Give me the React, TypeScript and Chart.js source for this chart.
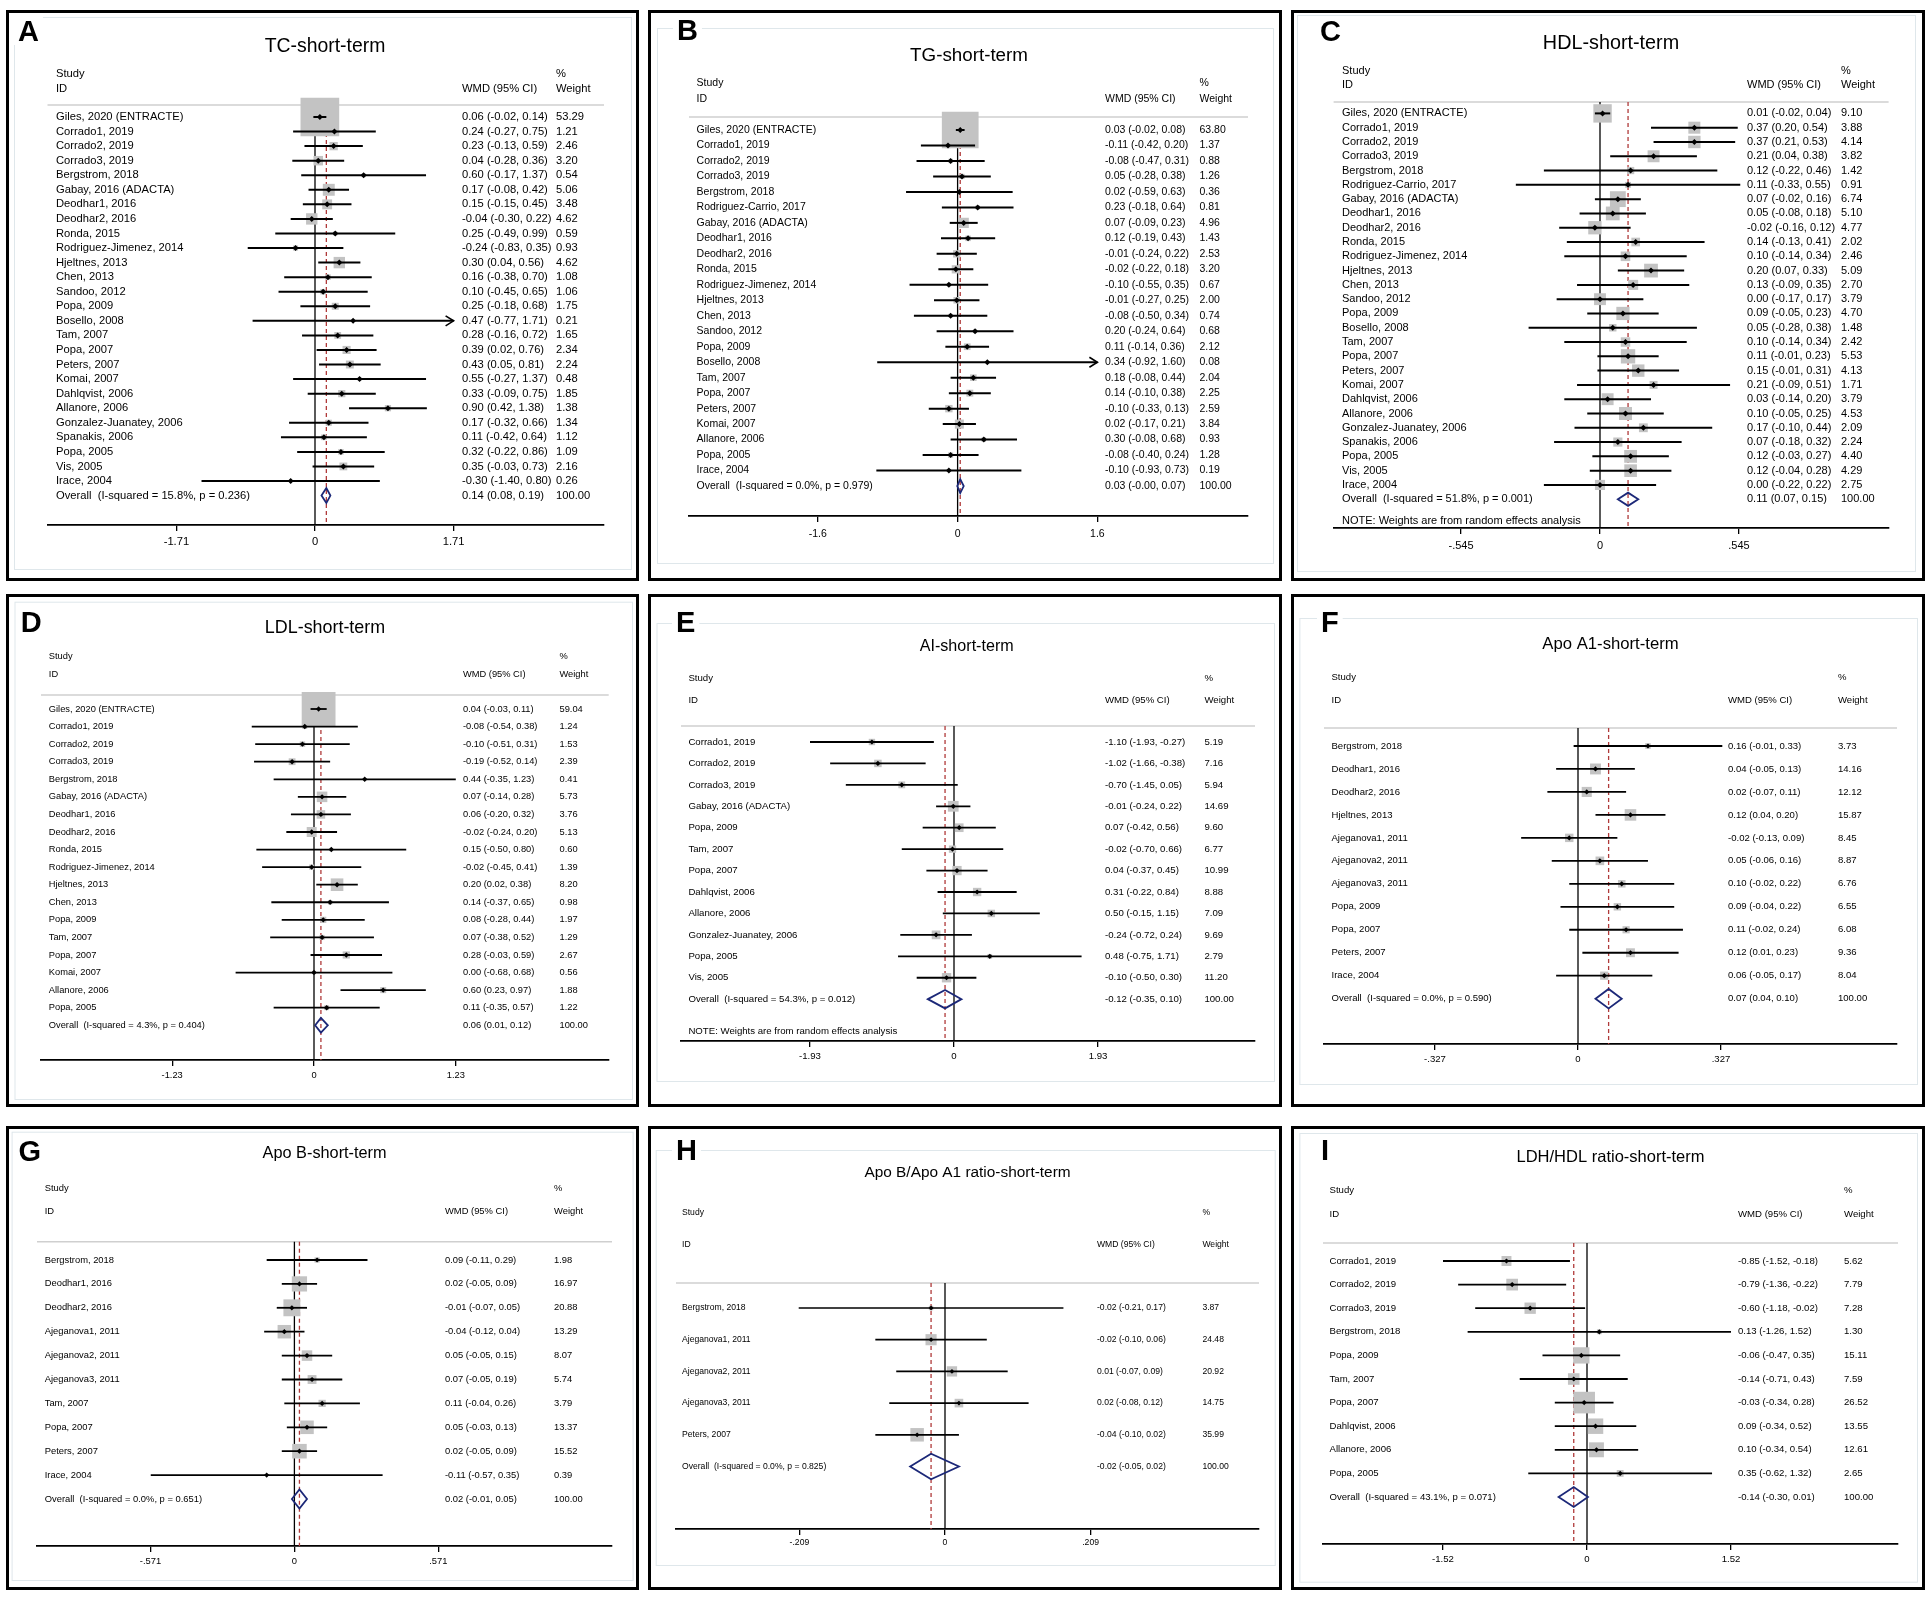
import React, { useEffect, useRef } from "react";
import { Chart, registerables } from "chart.js";
Chart.register(...registerables);

const FONT = "'Liberation Sans', Arial, Helvetica, sans-serif";

// ---------------- A: TC ----------------
const TC_STUDIES = ["Giles, 2020 (ENTRACTE)", "Corrado1, 2019", "Corrado2, 2019", "Corrado3, 2019", "Bergstrom, 2018", "Gabay, 2016 (ADACTA)", "Deodhar1, 2016", "Deodhar2, 2016", "Ronda, 2015", "Rodriguez-Jimenez, 2014", "Hjeltnes, 2013", "Chen, 2013", "Sandoo, 2012", "Popa, 2009", "Bosello, 2008", "Tam, 2007", "Popa, 2007", "Peters, 2007", "Komai, 2007", "Dahlqvist, 2006", "Allanore, 2006", "Gonzalez-Juanatey, 2006", "Spanakis, 2006", "Popa, 2005", "Vis, 2005", "Irace, 2004"];
const TC_EST = [0.06, 0.24, 0.23, 0.04, 0.60, 0.17, 0.15, -0.04, 0.25, -0.24, 0.30, 0.16, 0.10, 0.25, 0.47, 0.28, 0.39, 0.43, 0.55, 0.33, 0.90, 0.17, 0.11, 0.32, 0.35, -0.30];
const TC_LO = [-0.02, -0.27, -0.13, -0.28, -0.17, -0.08, -0.15, -0.30, -0.49, -0.83, 0.04, -0.38, -0.45, -0.18, -0.77, -0.16, 0.02, 0.05, -0.27, -0.09, 0.42, -0.32, -0.42, -0.22, -0.03, -1.40];
const TC_HI = [0.14, 0.75, 0.59, 0.36, 1.37, 0.42, 0.45, 0.22, 0.99, 0.35, 0.56, 0.70, 0.65, 0.68, 1.71, 0.72, 0.76, 0.81, 1.37, 0.75, 1.38, 0.66, 0.64, 0.86, 0.73, 0.80];
const TC_WEIGHT = [53.29, 1.21, 2.46, 3.20, 0.54, 5.06, 3.48, 4.62, 0.59, 0.93, 4.62, 1.08, 1.06, 1.75, 0.21, 1.65, 2.34, 2.24, 0.48, 1.85, 1.38, 1.34, 1.12, 1.09, 2.16, 0.26];
const TC_OVERALL = [0.14, 0.08, 0.19];
const TC_HET = "Overall  (I-squared = 15.8%, p = 0.236)";
const TC_TICK = 1.71;
const TC_TICK_LABELS = ["-1.71", "0", "1.71"];

// ---------------- B: TG ----------------
const TG_STUDIES = ["Giles, 2020 (ENTRACTE)", "Corrado1, 2019", "Corrado2, 2019", "Corrado3, 2019", "Bergstrom, 2018", "Rodriguez-Carrio, 2017", "Gabay, 2016 (ADACTA)", "Deodhar1, 2016", "Deodhar2, 2016", "Ronda, 2015", "Rodriguez-Jimenez, 2014", "Hjeltnes, 2013", "Chen, 2013", "Sandoo, 2012", "Popa, 2009", "Bosello, 2008", "Tam, 2007", "Popa, 2007", "Peters, 2007", "Komai, 2007", "Allanore, 2006", "Popa, 2005", "Irace, 2004"];
const TG_EST = [0.03, -0.11, -0.08, 0.05, 0.02, 0.23, 0.07, 0.12, -0.01, -0.02, -0.10, -0.01, -0.08, 0.20, 0.11, 0.34, 0.18, 0.14, -0.10, 0.02, 0.30, -0.08, -0.10];
const TG_LO = [-0.02, -0.42, -0.47, -0.28, -0.59, -0.18, -0.09, -0.19, -0.24, -0.22, -0.55, -0.27, -0.50, -0.24, -0.14, -0.92, -0.08, -0.10, -0.33, -0.17, -0.08, -0.40, -0.93];
const TG_HI = [0.08, 0.20, 0.31, 0.38, 0.63, 0.64, 0.23, 0.43, 0.22, 0.18, 0.35, 0.25, 0.34, 0.64, 0.36, 1.60, 0.44, 0.38, 0.13, 0.21, 0.68, 0.24, 0.73];
const TG_WEIGHT = [63.80, 1.37, 0.88, 1.26, 0.36, 0.81, 4.96, 1.43, 2.53, 3.20, 0.67, 2.00, 0.74, 0.68, 2.12, 0.08, 2.04, 2.25, 2.59, 3.84, 0.93, 1.28, 0.19];
const TG_OVERALL = [0.03, -0.004, 0.07];
const TG_HET = "Overall  (I-squared = 0.0%, p = 0.979)";
const TG_TICK = 1.6;
const TG_TICK_LABELS = ["-1.6", "0", "1.6"];

// ---------------- C: HDL ----------------
const HDL_STUDIES = ["Giles, 2020 (ENTRACTE)", "Corrado1, 2019", "Corrado2, 2019", "Corrado3, 2019", "Bergstrom, 2018", "Rodriguez-Carrio, 2017", "Gabay, 2016 (ADACTA)", "Deodhar1, 2016", "Deodhar2, 2016", "Ronda, 2015", "Rodriguez-Jimenez, 2014", "Hjeltnes, 2013", "Chen, 2013", "Sandoo, 2012", "Popa, 2009", "Bosello, 2008", "Tam, 2007", "Popa, 2007", "Peters, 2007", "Komai, 2007", "Dahlqvist, 2006", "Allanore, 2006", "Gonzalez-Juanatey, 2006", "Spanakis, 2006", "Popa, 2005", "Vis, 2005", "Irace, 2004"];
const HDL_EST = [0.01, 0.37, 0.37, 0.21, 0.12, 0.11, 0.07, 0.05, -0.02, 0.14, 0.10, 0.20, 0.13, 0.00, 0.09, 0.05, 0.10, 0.11, 0.15, 0.21, 0.03, 0.10, 0.17, 0.07, 0.12, 0.12, 0.00];
const HDL_LO = [-0.02, 0.20, 0.21, 0.04, -0.22, -0.33, -0.02, -0.08, -0.16, -0.13, -0.14, 0.07, -0.09, -0.17, -0.05, -0.28, -0.14, -0.01, -0.01, -0.09, -0.14, -0.05, -0.10, -0.18, -0.03, -0.04, -0.22];
const HDL_HI = [0.04, 0.54, 0.53, 0.38, 0.46, 0.55, 0.16, 0.18, 0.12, 0.41, 0.34, 0.33, 0.35, 0.17, 0.23, 0.38, 0.34, 0.23, 0.31, 0.51, 0.20, 0.25, 0.44, 0.32, 0.27, 0.28, 0.22];
const HDL_WEIGHT = [9.10, 3.88, 4.14, 3.82, 1.42, 0.91, 6.74, 5.10, 4.77, 2.02, 2.46, 5.09, 2.70, 3.79, 4.70, 1.48, 2.42, 5.53, 4.13, 1.71, 3.79, 4.53, 2.09, 2.24, 4.40, 4.29, 2.75];
const HDL_OVERALL = [0.11, 0.07, 0.15];
const HDL_HET = "Overall  (I-squared = 51.8%, p = 0.001)";
const HDL_TICK = 0.545;
const HDL_TICK_LABELS = ["-.545", "0", ".545"];

// ---------------- D: LDL ----------------
const LDL_STUDIES = ["Giles, 2020 (ENTRACTE)", "Corrado1, 2019", "Corrado2, 2019", "Corrado3, 2019", "Bergstrom, 2018", "Gabay, 2016 (ADACTA)", "Deodhar1, 2016", "Deodhar2, 2016", "Ronda, 2015", "Rodriguez-Jimenez, 2014", "Hjeltnes, 2013", "Chen, 2013", "Popa, 2009", "Tam, 2007", "Popa, 2007", "Komai, 2007", "Allanore, 2006", "Popa, 2005"];
const LDL_EST = [0.04, -0.08, -0.10, -0.19, 0.44, 0.07, 0.06, -0.02, 0.15, -0.02, 0.20, 0.14, 0.08, 0.07, 0.28, 0.00, 0.60, 0.11];
const LDL_LO = [-0.03, -0.54, -0.51, -0.52, -0.35, -0.14, -0.20, -0.24, -0.50, -0.45, 0.02, -0.37, -0.28, -0.38, -0.03, -0.68, 0.23, -0.35];
const LDL_HI = [0.11, 0.38, 0.31, 0.14, 1.23, 0.28, 0.32, 0.20, 0.80, 0.41, 0.38, 0.65, 0.44, 0.52, 0.59, 0.68, 0.97, 0.57];
const LDL_WEIGHT = [59.04, 1.24, 1.53, 2.39, 0.41, 5.73, 3.76, 5.13, 0.60, 1.39, 8.20, 0.98, 1.97, 1.29, 2.67, 0.56, 1.88, 1.22];
const LDL_OVERALL = [0.06, 0.01, 0.12];
const LDL_HET = "Overall  (I-squared = 4.3%, p = 0.404)";
const LDL_TICK = 1.23;
const LDL_TICK_LABELS = ["-1.23", "0", "1.23"];

// ---------------- E: AI ----------------
const AI_STUDIES = ["Corrado1, 2019", "Corrado2, 2019", "Corrado3, 2019", "Gabay, 2016 (ADACTA)", "Popa, 2009", "Tam, 2007", "Popa, 2007", "Dahlqvist, 2006", "Allanore, 2006", "Gonzalez-Juanatey, 2006", "Popa, 2005", "Vis, 2005"];
const AI_EST = [-1.10, -1.02, -0.70, -0.01, 0.07, -0.02, 0.04, 0.31, 0.50, -0.24, 0.48, -0.10];
const AI_LO = [-1.93, -1.66, -1.45, -0.24, -0.42, -0.70, -0.37, -0.22, -0.15, -0.72, -0.75, -0.50];
const AI_HI = [-0.27, -0.38, 0.05, 0.22, 0.56, 0.66, 0.45, 0.84, 1.15, 0.24, 1.71, 0.30];
const AI_WEIGHT = [5.19, 7.16, 5.94, 14.69, 9.60, 6.77, 10.99, 8.88, 7.09, 9.69, 2.79, 11.20];
const AI_OVERALL = [-0.12, -0.35, 0.10];
const AI_HET = "Overall  (I-squared = 54.3%, p = 0.012)";
const AI_TICK = 1.93;
const AI_TICK_LABELS = ["-1.93", "0", "1.93"];

// ---------------- F: Apo A1 ----------------
const APOA1_STUDIES = ["Bergstrom, 2018", "Deodhar1, 2016", "Deodhar2, 2016", "Hjeltnes, 2013", "Ajeganova1, 2011", "Ajeganova2, 2011", "Ajeganova3, 2011", "Popa, 2009", "Popa, 2007", "Peters, 2007", "Irace, 2004"];
const APOA1_EST = [0.16, 0.04, 0.02, 0.12, -0.02, 0.05, 0.10, 0.09, 0.11, 0.12, 0.06];
const APOA1_LO = [-0.01, -0.05, -0.07, 0.04, -0.13, -0.06, -0.02, -0.04, -0.02, 0.01, -0.05];
const APOA1_HI = [0.33, 0.13, 0.11, 0.20, 0.09, 0.16, 0.22, 0.22, 0.24, 0.23, 0.17];
const APOA1_WEIGHT = [3.73, 14.16, 12.12, 15.87, 8.45, 8.87, 6.76, 6.55, 6.08, 9.36, 8.04];
const APOA1_OVERALL = [0.07, 0.04, 0.10];
const APOA1_HET = "Overall  (I-squared = 0.0%, p = 0.590)";
const APOA1_TICK = 0.327;
const APOA1_TICK_LABELS = ["-.327", "0", ".327"];

// ---------------- G: Apo B ----------------
const APOB_STUDIES = ["Bergstrom, 2018", "Deodhar1, 2016", "Deodhar2, 2016", "Ajeganova1, 2011", "Ajeganova2, 2011", "Ajeganova3, 2011", "Tam, 2007", "Popa, 2007", "Peters, 2007", "Irace, 2004"];
const APOB_EST = [0.09, 0.02, -0.01, -0.04, 0.05, 0.07, 0.11, 0.05, 0.02, -0.11];
const APOB_LO = [-0.11, -0.05, -0.07, -0.12, -0.05, -0.05, -0.04, -0.03, -0.05, -0.57];
const APOB_HI = [0.29, 0.09, 0.05, 0.04, 0.15, 0.19, 0.26, 0.13, 0.09, 0.35];
const APOB_WEIGHT = [1.98, 16.97, 20.88, 13.29, 8.07, 5.74, 3.79, 13.37, 15.52, 0.39];
const APOB_OVERALL = [0.02, -0.01, 0.05];
const APOB_HET = "Overall  (I-squared = 0.0%, p = 0.651)";
const APOB_TICK = 0.571;
const APOB_TICK_LABELS = ["-.571", "0", ".571"];

// ---------------- H: Apo B / Apo A1 ratio ----------------
const RATIO_STUDIES = ["Bergstrom, 2018", "Ajeganova1, 2011", "Ajeganova2, 2011", "Ajeganova3, 2011", "Peters, 2007"];
const RATIO_EST = [-0.02, -0.02, 0.01, 0.02, -0.04];
const RATIO_LO = [-0.21, -0.10, -0.07, -0.08, -0.10];
const RATIO_HI = [0.17, 0.06, 0.09, 0.12, 0.02];
const RATIO_WEIGHT = [3.87, 24.48, 20.92, 14.75, 35.99];
const RATIO_OVERALL = [-0.02, -0.05, 0.02];
const RATIO_HET = "Overall  (I-squared = 0.0%, p = 0.825)";
const RATIO_TICK = 0.209;
const RATIO_TICK_LABELS = ["-.209", "0", ".209"];

// ---------------- I: LDH/HDL ratio ----------------
const LH_STUDIES = ["Corrado1, 2019", "Corrado2, 2019", "Corrado3, 2019", "Bergstrom, 2018", "Popa, 2009", "Tam, 2007", "Popa, 2007", "Dahlqvist, 2006", "Allanore, 2006", "Popa, 2005"];
const LH_EST = [-0.85, -0.79, -0.60, 0.13, -0.06, -0.14, -0.03, 0.09, 0.10, 0.35];
const LH_LO = [-1.52, -1.36, -1.18, -1.26, -0.47, -0.71, -0.34, -0.34, -0.34, -0.62];
const LH_HI = [-0.18, -0.22, -0.02, 1.52, 0.35, 0.43, 0.28, 0.52, 0.54, 1.32];
const LH_WEIGHT = [5.62, 7.79, 7.28, 1.30, 15.11, 7.59, 26.52, 13.55, 12.61, 2.65];
const LH_OVERALL = [-0.14, -0.30, 0.01];
const LH_HET = "Overall  (I-squared = 43.1%, p = 0.071)";
const LH_TICK = 1.52;
const LH_TICK_LABELS = ["-1.52", "0", "1.52"];

const NOTE = "NOTE: Weights are from random effects analysis";

type Layout = {
  letterX: number; letterY: number; titleX: number; titleY: number; titleSize: number; textSize: number;
  studyY: number; idY: number; hlineY: number; firstRowY: number; rowStep: number; axisY: number; tickLabelY: number;
  labelX: number; wmdX: number; weightX: number; zeroX: number; aPx: number; axisL: number; axisR: number;
  inner: number[]; boxK: number; pointR: number; ciW: number; diamondH: number; noteY?: number; arrows?: number[];
};

type PanelDef = {
  letter: string; title: string; studies: string[]; est: number[]; lo: number[]; hi: number[]; weight: number[];
  overall: number[]; het: string; tick: number; tickLabels: string[]; note?: string; box: number[]; L: Layout;
};

const PANELS: PanelDef[] = [
  {
    letter: "A", title: "TC-short-term", studies: TC_STUDIES, est: TC_EST, lo: TC_LO, hi: TC_HI, weight: TC_WEIGHT,
    overall: TC_OVERALL, het: TC_HET, tick: TC_TICK, tickLabels: TC_TICK_LABELS, box: [6, 10, 633, 571],
    L: { letterX: 12, letterY: 31, titleX: 319, titleY: 37, titleSize: 19.4, textSize: 11.2, studyY: 64, idY: 79, hlineY: 95, firstRowY: 107, rowStep: 14.56, axisY: 515, tickLabelY: 532, labelX: 50, wmdX: 456, weightX: 550, zeroX: 309, aPx: 138.6, axisL: 41.5, axisR: 598, inner: [8, 7, 625, 559], boxK: 5.3, pointR: 3, ciW: 2, diamondH: 7.5, arrows: [14] },
  },
  {
    letter: "B", title: "TG-short-term", studies: TG_STUDIES, est: TG_EST, lo: TG_LO, hi: TG_HI, weight: TG_WEIGHT,
    overall: TG_OVERALL, het: TG_HET, tick: TG_TICK, tickLabels: TG_TICK_LABELS, box: [648, 10, 634, 571],
    L: { letterX: 29, letterY: 30, titleX: 321, titleY: 46, titleSize: 18.8, textSize: 10.5, studyY: 73, idY: 89, hlineY: 107, firstRowY: 120, rowStep: 15.48, axisY: 506, tickLabelY: 524, labelX: 48.6, wmdX: 457, weightX: 551.5, zeroX: 309.6, aPx: 139.8, axisL: 41, axisR: 600, inner: [9, 18, 625, 553], boxK: 4.6, pointR: 3, ciW: 2, diamondH: 7, arrows: [15] },
  },
  {
    letter: "C", title: "HDL-short-term", studies: HDL_STUDIES, est: HDL_EST, lo: HDL_LO, hi: HDL_HI, weight: HDL_WEIGHT,
    overall: HDL_OVERALL, het: HDL_HET, tick: HDL_TICK, tickLabels: HDL_TICK_LABELS, note: NOTE, box: [1291, 10, 634, 571],
    L: { letterX: 29, letterY: 31, titleX: 320, titleY: 33.5, titleSize: 19.8, textSize: 11, studyY: 61, idY: 75, hlineY: 92, firstRowY: 103.4, rowStep: 14.29, noteY: 511, axisY: 518, tickLabelY: 535.5, labelX: 51, wmdX: 456, weightX: 550, zeroX: 309, aPx: 139, axisL: 42.6, axisR: 597.6, inner: [6, 5, 624, 561], boxK: 6.1, pointR: 3, ciW: 2, diamondH: 6.6 },
  },
  {
    letter: "D", title: "LDL-short-term", studies: LDL_STUDIES, est: LDL_EST, lo: LDL_LO, hi: LDL_HI, weight: LDL_WEIGHT,
    overall: LDL_OVERALL, het: LDL_HET, tick: LDL_TICK, tickLabels: LDL_TICK_LABELS, box: [6, 594, 633, 513],
    L: { letterX: 14.7, letterY: 38, titleX: 319, titleY: 34, titleSize: 17.9, textSize: 9.3, studyY: 62.7, idY: 80, hlineY: 101, firstRowY: 115, rowStep: 17.57, axisY: 466, tickLabelY: 481.7, labelX: 42.8, wmdX: 457, weightX: 553.5, zeroX: 308, aPx: 141.8, axisL: 35, axisR: 602.7, inner: [8.5, 7.7, 626, 505], boxK: 4.4, pointR: 2.7, ciW: 1.8, diamondH: 7.3 },
  },
  {
    letter: "E", title: "AI-short-term", studies: AI_STUDIES, est: AI_EST, lo: AI_LO, hi: AI_HI, weight: AI_WEIGHT,
    overall: AI_OVERALL, het: AI_HET, tick: AI_TICK, tickLabels: AI_TICK_LABELS, note: NOTE, box: [648, 594, 634, 513],
    L: { letterX: 28, letterY: 38, titleX: 318.7, titleY: 52.7, titleSize: 16.1, textSize: 9.65, studyY: 84, idY: 106, hlineY: 132, firstRowY: 148, rowStep: 21.43, noteY: 437, axisY: 447, tickLabelY: 462, labelX: 40.4, wmdX: 457, weightX: 556.4, zeroX: 306, aPx: 144, axisL: 33, axisR: 607, inner: [8.5, 29, 626, 487], boxK: 2.8, pointR: 2.6, ciW: 1.8, diamondH: 9.2 },
  },
  {
    letter: "F", title: "Apo A1-short-term", studies: APOA1_STUDIES, est: APOA1_EST, lo: APOA1_LO, hi: APOA1_HI, weight: APOA1_WEIGHT,
    overall: APOA1_OVERALL, het: APOA1_HET, tick: APOA1_TICK, tickLabels: APOA1_TICK_LABELS, box: [1291, 594, 634, 513],
    L: { letterX: 30, letterY: 37.7, titleX: 319.5, titleY: 50, titleSize: 16.7, textSize: 9.55, studyY: 83.7, idY: 106, hlineY: 134, firstRowY: 152, rowStep: 22.97, axisY: 450, tickLabelY: 465, labelX: 40.5, wmdX: 437, weightX: 547, zeroX: 287, aPx: 143, axisL: 33, axisR: 606, inner: [8.4, 24, 626, 490], boxK: 2.9, pointR: 2.6, ciW: 1.8, diamondH: 9.7 },
  },
  {
    letter: "G", title: "Apo B-short-term", studies: APOB_STUDIES, est: APOB_EST, lo: APOB_LO, hi: APOB_HI, weight: APOB_WEIGHT,
    overall: APOB_OVERALL, het: APOB_HET, tick: APOB_TICK, tickLabels: APOB_TICK_LABELS, box: [6, 1126, 633, 464],
    L: { letterX: 12.6, letterY: 35, titleX: 318.6, titleY: 28, titleSize: 16.3, textSize: 9.4, studyY: 62, idY: 85.7, hlineY: 115.7, firstRowY: 134, rowStep: 23.9, axisY: 420, tickLabelY: 435.7, labelX: 38.7, wmdX: 439, weightX: 548, zeroX: 288.4, aPx: 143.9, axisL: 31, axisR: 606, inner: [5.6, 5.7, 626.6, 454], boxK: 3.7, pointR: 2.6, ciW: 1.8, diamondH: 9.5 },
  },
  {
    letter: "H", title: "Apo B/Apo A1 ratio-short-term", studies: RATIO_STUDIES, est: RATIO_EST, lo: RATIO_LO, hi: RATIO_HI, weight: RATIO_WEIGHT,
    overall: RATIO_OVERALL, het: RATIO_HET, tick: RATIO_TICK, tickLabels: RATIO_TICK_LABELS, box: [648, 1126, 634, 464],
    L: { letterX: 28, letterY: 34, titleX: 319.5, titleY: 46.7, titleSize: 15.4, textSize: 8.6, studyY: 87, idY: 119, hlineY: 157, firstRowY: 182, rowStep: 31.7, axisY: 403, tickLabelY: 416.7, labelX: 34, wmdX: 449, weightX: 554.4, zeroX: 297, aPx: 145.6, axisL: 28, axisR: 611, inner: [7.7, 24, 626.7, 439], boxK: 2.25, pointR: 2.4, ciW: 1.7, diamondH: 12.8 },
  },
  {
    letter: "I", title: "LDH/HDL ratio-short-term", studies: LH_STUDIES, est: LH_EST, lo: LH_LO, hi: LH_HI, weight: LH_WEIGHT,
    overall: LH_OVERALL, het: LH_HET, tick: LH_TICK, tickLabels: LH_TICK_LABELS, box: [1291, 1126, 634, 464],
    L: { letterX: 30, letterY: 34, titleX: 319.5, titleY: 31, titleSize: 16.5, textSize: 9.6, studyY: 64, idY: 88, hlineY: 117, firstRowY: 135, rowStep: 23.6, axisY: 418, tickLabelY: 433, labelX: 38.5, wmdX: 447, weightX: 553, zeroX: 296, aPx: 144, axisL: 32, axisR: 607, inner: [8.4, 7, 626, 455.7], boxK: 4.2, pointR: 2.6, ciW: 1.8, diamondH: 10 },
  },
];

const fmt = (v: number) => v.toFixed(2);
const ciText = (e: number, lo: number, hi: number) => `${fmt(e)} (${fmt(lo)}, ${fmt(hi)})`;

function ForestPanel({ p }: { p: PanelDef }) {
  const ref = useRef<HTMLCanvasElement | null>(null);
  const [bx, by, W, H] = p.box;

  useEffect(() => {
    const canvas = ref.current;
    if (!canvas) return;
    const L = p.L;
    const n = p.studies.length;
    const a = p.tick;
    const xMin = ((L.axisL - L.zeroX) / L.aPx) * a;
    const xMax = ((L.axisR - L.zeroX) / L.aPx) * a;
    const yMin = (L.hlineY - L.firstRowY) / L.rowStep;
    const yMax = (L.axisY - L.firstRowY) / L.rowStep;
    const tickLen = 6;
    const arrows = L.arrows || [];

    const plugin = {
      id: "forest" + p.letter,
      beforeDraw(chart: any) {
        const ctx = chart.ctx as CanvasRenderingContext2D;
        ctx.save();
        // inner (plot region) frame
        const [il, it, ir, ib] = L.inner;
        ctx.strokeStyle = "#dfe7eb";
        ctx.lineWidth = 1;
        ctx.strokeRect(il + 0.5, it + 0.5, ir - il, ib - it);
        // outer border
        ctx.strokeStyle = "#000";
        ctx.lineWidth = 3;
        ctx.strokeRect(1.5, 1.5, W - 3, H - 3);
        // panel letter
        ctx.font = `bold 29px ${FONT}`;
        const lw = ctx.measureText(p.letter).width;
        ctx.fillStyle = "#fff";
        ctx.fillRect(L.letterX - 4, L.letterY - 25, lw + 8, 29);
        ctx.fillStyle = "#000";
        ctx.textAlign = "left";
        ctx.textBaseline = "alphabetic";
        ctx.fillText(p.letter, L.letterX, L.letterY);
        // title
        ctx.font = `${L.titleSize}px ${FONT}`;
        ctx.textAlign = "center";
        ctx.textBaseline = "middle";
        ctx.fillText(p.title, L.titleX, L.titleY);
        // headers
        ctx.font = `${L.textSize}px ${FONT}`;
        ctx.textAlign = "left";
        ctx.fillText("Study", L.labelX, L.studyY);
        ctx.fillText("ID", L.labelX, L.idY);
        ctx.fillText("WMD (95% CI)", L.wmdX, L.idY);
        ctx.fillText("%", L.weightX, L.studyY);
        ctx.fillText("Weight", L.weightX, L.idY);
        // header rule
        ctx.strokeStyle = "#cfcfcf";
        ctx.lineWidth = 1.5;
        ctx.beginPath();
        ctx.moveTo(L.axisL, L.hlineY);
        ctx.lineTo(L.axisR, L.hlineY);
        ctx.stroke();
        ctx.restore();
      },
      beforeDatasetsDraw(chart: any) {
        const ctx = chart.ctx as CanvasRenderingContext2D;
        const x = chart.scales.x;
        const top = chart.chartArea.top;
        const bottom = chart.chartArea.bottom;
        ctx.save();
        // no-effect line
        const x0 = x.getPixelForValue(0);
        ctx.strokeStyle = "#000";
        ctx.lineWidth = 1.3;
        ctx.beginPath();
        ctx.moveTo(x0, top);
        ctx.lineTo(x0, bottom);
        ctx.stroke();
        // overall effect dashed line
        const xo = x.getPixelForValue(p.overall[0]);
        ctx.strokeStyle = "#b03a3a";
        ctx.lineWidth = 1.3;
        ctx.setLineDash([4, 3]);
        ctx.beginPath();
        ctx.moveTo(xo, top);
        ctx.lineTo(xo, bottom);
        ctx.stroke();
        ctx.restore();
      },
      afterDatasetsDraw(chart: any) {
        const ctx = chart.ctx as CanvasRenderingContext2D;
        const x = chart.scales.x;
        const y = chart.scales.y;
        ctx.save();
        ctx.strokeStyle = "#000";
        ctx.lineWidth = L.ciW;
        for (let i = 0; i < n; i++) {
          const py = y.getPixelForValue(i);
          const x1 = x.getPixelForValue(p.lo[i]);
          const x2 = x.getPixelForValue(p.hi[i]);
          ctx.beginPath();
          ctx.moveTo(x1, py);
          ctx.lineTo(x2, py);
          ctx.stroke();
          if (arrows.includes(i)) {
            ctx.lineWidth = 1.6;
            ctx.beginPath();
            ctx.moveTo(x2 - 8, py - 5);
            ctx.lineTo(x2, py);
            ctx.lineTo(x2 - 8, py + 5);
            ctx.stroke();
            ctx.lineWidth = L.ciW;
          }
        }
        // pooled diamond
        const [oe, olo, ohi] = p.overall;
        const py = y.getPixelForValue(n);
        ctx.strokeStyle = "#1c2878";
        ctx.lineWidth = 1.8;
        ctx.lineJoin = "miter";
        ctx.beginPath();
        ctx.moveTo(x.getPixelForValue(olo), py);
        ctx.lineTo(x.getPixelForValue(oe), py - L.diamondH);
        ctx.lineTo(x.getPixelForValue(ohi), py);
        ctx.lineTo(x.getPixelForValue(oe), py + L.diamondH);
        ctx.closePath();
        ctx.stroke();
        ctx.restore();
      },
      afterDraw(chart: any) {
        const ctx = chart.ctx as CanvasRenderingContext2D;
        const y = chart.scales.y;
        ctx.save();
        ctx.fillStyle = "#000";
        ctx.font = `${L.textSize}px ${FONT}`;
        ctx.textAlign = "left";
        ctx.textBaseline = "middle";
        for (let i = 0; i < n; i++) {
          const py = y.getPixelForValue(i);
          ctx.fillText(p.studies[i], L.labelX, py);
          ctx.fillText(ciText(p.est[i], p.lo[i], p.hi[i]), L.wmdX, py);
          ctx.fillText(fmt(p.weight[i]), L.weightX, py);
        }
        const po = y.getPixelForValue(n);
        ctx.fillText(p.het, L.labelX, po);
        ctx.fillText(ciText(p.overall[0], p.overall[1], p.overall[2]), L.wmdX, po);
        ctx.fillText("100.00", L.weightX, po);
        if (p.note && L.noteY !== undefined) ctx.fillText(p.note, L.labelX, L.noteY);
        ctx.restore();
      },
    };

    const chart = new Chart(canvas, {
      type: "scatter",
      data: {
        datasets: [
          {
            label: "estimate",
            data: p.est.map((v, i) => ({ x: v, y: i })),
            pointStyle: "rectRot",
            pointRadius: L.pointR,
            pointBackgroundColor: "#000",
            pointBorderWidth: 0,
            order: 0,
            clip: false,
          } as any,
          {
            label: "weight",
            data: p.est.map((v, i) => ({ x: v, y: i })),
            pointStyle: "rect",
            pointRadius: p.weight.map((w) => (L.boxK * Math.sqrt(w)) / Math.SQRT2),
            pointBackgroundColor: "#c3c3c3",
            pointBorderWidth: 0,
            order: 1,
            clip: false,
          } as any,
        ],
      },
      options: {
        animation: false,
        responsive: false,
        maintainAspectRatio: false,
        devicePixelRatio: 1,
        events: [],
        layout: { autoPadding: false, padding: { left: L.axisL, right: W - L.axisR, top: L.hlineY, bottom: 0 } },
        plugins: { legend: { display: false }, tooltip: { enabled: false }, title: { display: false } },
        scales: {
          x: {
            type: "linear",
            position: "bottom",
            min: xMin,
            max: xMax,
            bounds: "data",
            afterBuildTicks: (s: any) => {
              s.ticks = [-a, 0, a].map((v) => ({ value: v }));
            },
            afterFit: (s: any) => {
              s.height = H - L.axisY;
            },
            ticks: {
              autoSkip: false,
              maxRotation: 0,
              minRotation: 0,
              color: "#000",
              padding: L.tickLabelY - L.axisY - tickLen - 0.6 * L.textSize,
              font: { family: FONT, size: L.textSize },
              callback: (_v: any, idx: number) => p.tickLabels[idx] ?? "",
            },
            grid: { display: true, drawOnChartArea: false, drawTicks: true, tickLength: tickLen, color: "#000", lineWidth: 1.3 },
            border: { display: true, color: "#000", width: 1.8 },
          },
          y: { type: "linear", reverse: true, min: yMin, max: yMax, display: false },
        },
      } as any,
      plugins: [plugin],
    });
    return () => chart.destroy();
  }, [p]);

  return (
    <canvas
      ref={ref}
      width={W}
      height={H}
      style={{ position: "absolute", left: bx, top: by, width: W, height: H }}
    />
  );
}

export default function App() {
  return (
    <div style={{ position: "absolute", left: 0, top: 0, width: 1928, height: 1597, background: "#fff", overflow: "hidden" }}>
      {PANELS.map((p) => (
        <ForestPanel key={p.letter} p={p} />
      ))}
    </div>
  );
}
